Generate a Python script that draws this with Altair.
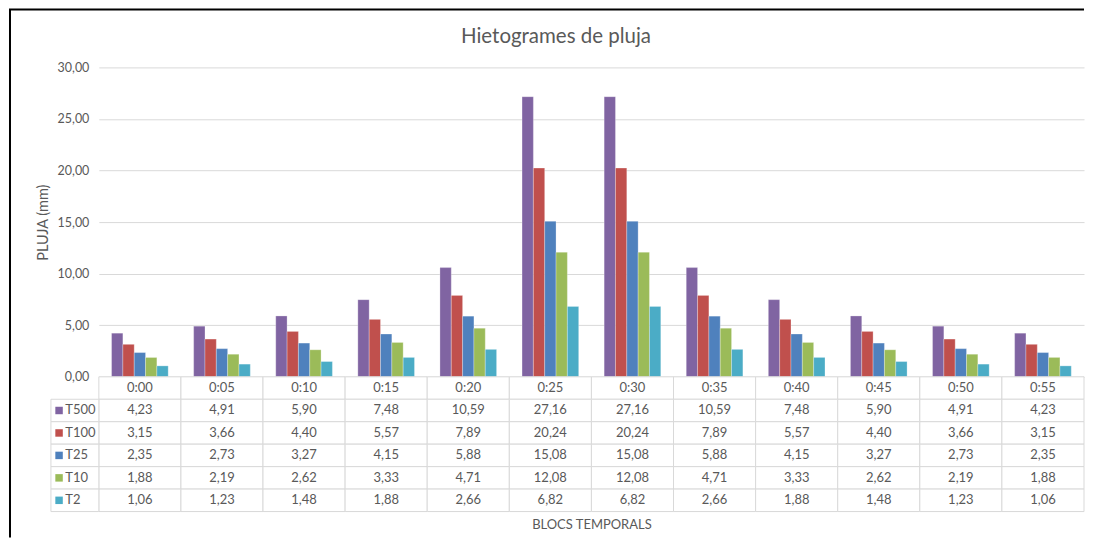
import altair as alt
import pandas as pd

times = ["0:00", "0:05", "0:10", "0:15", "0:20", "0:25", "0:30", "0:35", "0:40", "0:45", "0:50", "0:55"]
series = ["T500", "T100", "T25", "T10", "T2"]
colors = ["#8064A2", "#C0504D", "#4F81BD", "#9BBB59", "#4BACC6"]

t500 = [4.23, 4.91, 5.90, 7.48, 10.59, 27.16, 27.16, 10.59, 7.48, 5.90, 4.91, 4.23]
t100 = [3.15, 3.66, 4.40, 5.57, 7.89, 20.24, 20.24, 7.89, 5.57, 4.40, 3.66, 3.15]
t25 = [2.35, 2.73, 3.27, 4.15, 5.88, 15.08, 15.08, 5.88, 4.15, 3.27, 2.73, 2.35]
t10 = [1.88, 2.19, 2.62, 3.33, 4.71, 12.08, 12.08, 4.71, 3.33, 2.62, 2.19, 1.88]
t2 = [1.06, 1.23, 1.48, 1.88, 2.66, 6.82, 6.82, 2.66, 1.88, 1.48, 1.23, 1.06]

y_ticks = [0, 5, 10, 15, 20, 25, 30]
title_text = "Hietogrames de pluja"

FONT = "Lato"
GREY = "#595959"
LINE = "#d9d9d9"
W = 987

values = {"T500": t500, "T100": t100, "T25": t25, "T10": t10, "T2": t2}

rows = []
for s in series:
    for t, v in zip(times, values[s]):
        rows.append({"time": t, "series": s, "value": v,
                     "label": f"{v:.2f}".replace(".", ",")})
df = pd.DataFrame(rows)

hdr = pd.DataFrame({"time": times, "series": ["hdr"] * len(times), "label": times})
df_table = pd.concat([hdr, df[["time", "series", "label"]]], ignore_index=True)
row_domain = ["hdr"] + series

df_leg = pd.DataFrame({"series": series})

# ---------------- bar chart ----------------
bars = alt.Chart(df).mark_bar(stroke="#ffffff", strokeOpacity=0.35, strokeWidth=0.8).encode(
    x=alt.X("time:N", sort=times,
            scale=alt.Scale(domain=times, paddingInner=0.31, paddingOuter=0.155),
            axis=None),
    xOffset=alt.XOffset("series:N", sort=series, scale=alt.Scale(domain=series, paddingInner=0)),
    y=alt.Y("value:Q",
            scale=alt.Scale(domain=[0, 30], nice=False),
            axis=alt.Axis(values=y_ticks,
                          labelExpr="replace(format(datum.value, '.2f'), '.', ',')",
                          title="PLUJA (mm)", grid=True, gridColor=LINE,
                          domain=False, ticks=False, labelPadding=10, titlePadding=7,
                          labelColor=GREY, titleColor=GREY, labelFontSize=12.5,
                          titleFontSize=14.5, titleFontWeight="normal",
                          labelFont=FONT, titleFont=FONT)),
    color=alt.Color("series:N", scale=alt.Scale(domain=series, range=colors), legend=None),
)

frame_df = pd.DataFrame({"k": [0]})
frame_left = alt.Chart(frame_df).mark_rule(color="#000000", strokeWidth=2).encode(
    x=alt.value(-89), y=alt.value(-58), y2=alt.value(471))
frame_top = alt.Chart(frame_df).mark_rule(color="#000000", strokeWidth=2).encode(
    x=alt.value(-90), x2=alt.value(W), y=alt.value(-58))
title_mark = alt.Chart(frame_df).mark_text(
    text=title_text, font=FONT, fontSize=20.5, color=GREY, baseline="middle", align="center"
).encode(x=alt.value(458), y=alt.value(-30))

top = alt.layer(bars, frame_left, frame_top, title_mark).properties(width=W, height=310)

# ---------------- data table ----------------
y_row = alt.Y("series:N", sort=row_domain,
              scale=alt.Scale(domain=row_domain, paddingInner=0, paddingOuter=0),
              axis=None)

cells = alt.Chart(df_table).mark_rect(fill="white", stroke=LINE, strokeWidth=1).encode(
    x=alt.X("time:N", sort=times,
            scale=alt.Scale(domain=times, paddingInner=0, paddingOuter=0),
            axis=alt.Axis(title="BLOCS TEMPORALS", labels=False, ticks=False,
                          domain=False, grid=False, titlePadding=7,
                          titleColor=GREY, titleFontSize=13, titleFontWeight="normal",
                          titleFont=FONT)),
    y=y_row,
)

cell_text = alt.Chart(df_table).mark_text(font=FONT, fontSize=13, color=GREY).encode(
    x=alt.X("time:N", sort=times,
            scale=alt.Scale(domain=times, paddingInner=0, paddingOuter=0),
            axis=None),
    y=y_row,
    text="label:N",
)

leg_scale = alt.Scale(domain=[0, 1], range=[-48, 0])

leg_cells = alt.Chart(df_leg).mark_rect(fill="white", stroke=LINE, strokeWidth=1).encode(
    x=alt.X(datum=0, type="quantitative", scale=leg_scale, axis=None),
    x2=alt.X2(datum=1),
    y=y_row,
)

leg_sq = alt.Chart(df_leg).mark_point(shape="square", filled=True, size=56, opacity=1).encode(
    x=alt.X(datum=0.17, type="quantitative", scale=leg_scale, axis=None),
    y=y_row,
    color=alt.Color("series:N", scale=alt.Scale(domain=series, range=colors), legend=None),
)

leg_txt = alt.Chart(df_leg).mark_text(font=FONT, fontSize=13, color=GREY, align="left").encode(
    x=alt.X(datum=0.30, type="quantitative", scale=leg_scale, axis=None),
    y=y_row,
    text="series:N",
)

table = alt.layer(cells, cell_text, leg_cells, leg_sq, leg_txt).resolve_scale(
    x="independent").properties(width=W, height=135)

chart = alt.vconcat(top, table, spacing=0, bounds="flush").properties(
    padding=0,
).configure_view(stroke=None).resolve_scale(color="shared")

chart.save("out.html", embed_options={"renderer": "svg", "actions": False})
